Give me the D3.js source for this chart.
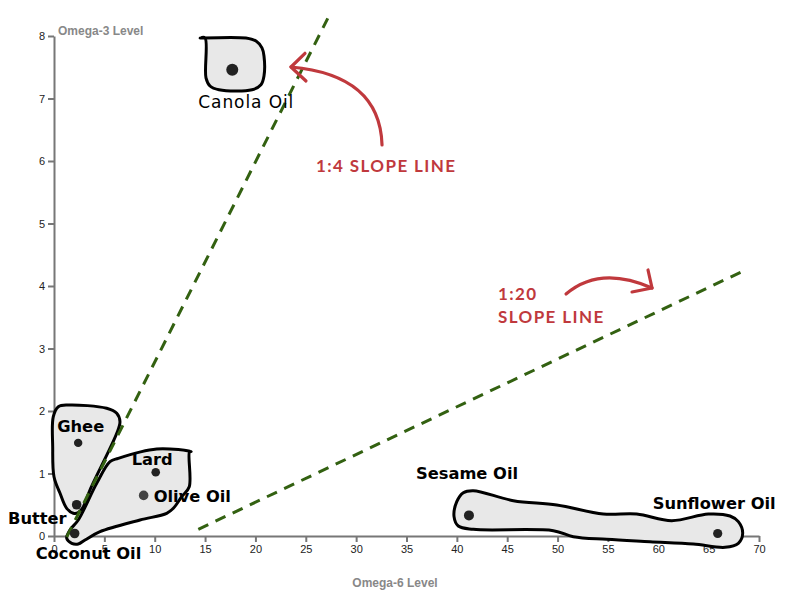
<!DOCTYPE html>
<html>
<head>
<meta charset="utf-8">
<script src="https://cdn.jsdelivr.net/npm/d3@7"></script>
<style>
  html, body { margin: 0; padding: 0; background: #fff; }
  svg { display: block; }
</style>
</head>
<body>
<svg id="chart" width="806" height="609"></svg>
<script>
// ---------- DATA ----------
const oils      = ["Canola Oil", "Ghee", "Butter", "Coconut Oil", "Lard", "Olive Oil", "Sesame Oil", "Sunflower Oil"];
const omega6    = [17.7, 2.4, 2.25, 2.05, 10.1, 8.9, 41.2, 65.9];
const omega3    = [7.46, 1.49, 0.50, 0.04, 1.02, 0.65, 0.33, 0.04];
const dotSize   = [6, 4.2, 4.8, 4.8, 4.3, 4.8, 5, 4.6];

const xTicks = [0, 5, 10, 15, 20, 25, 30, 35, 40, 45, 50, 55, 60, 65, 70];
const yTicks = [0, 1, 2, 3, 4, 5, 6, 7, 8];

// group outlines (omega-6, omega-3)
const hullCanola = [[14.50,7.968],[19.06,7.968],[20.06,7.92],[20.65,7.81],[20.85,7.68],[20.85,7.36],[20.55,7.22],[19.66,7.14],[16.38,7.14],[15.49,7.2],[15.09,7.33],[14.99,7.97]];
const hullGheeButter = [[0.43,2.069],[1.42,2.096],[5.23,2.043],[6.23,1.963],[6.55,1.829],[6.23,1.643],[3.57,0.736],[2.91,0.469],[2.41,0.373],[1.92,0.363],[1.26,0.443],[0.60,0.683],[0.00,0.949],[-0.13,1.429],[-0.07,1.909]];
const hullLardOlive = [[5.56,1.189],[6.38,1.243],[10.20,1.392],[13.62,1.352],[13.45,1.344],[13.43,0.789],[12.68,0.629],[11.85,0.443],[11.19,0.363],[8.54,0.256],[4.57,0.069],[3.08,-0.064],[2.41,-0.128],[1.76,-0.117],[1.26,-0.037],[1.59,0.096],[2.41,0.256],[4.24,0.843]];
const hullSeeds = [[41.63,0.725],[45.61,0.565],[49.92,0.496],[54.54,0.352],[57.86,0.352],[61.33,0.245],[64.97,0.352],[67.12,0.32],[67.95,0.229],[68.38,0.043],[67.95,-0.117],[66.63,-0.181],[63.48,-0.128],[59.18,-0.091],[54.88,-0.053],[51.56,-0.011],[49.58,0.085],[41.63,0.107],[40.14,0.16],[39.72,0.309],[39.99,0.549],[40.64,0.693]];
const hulls = [hullCanola, hullGheeButter, hullLardOlive, hullSeeds];

// reference lines (omega-6, omega-3)
const slope4Line  = [[1.26, -0.016], [27.18, 8.283]];
const slope20Line = [[14.33, 0.107], [68.51, 4.245]];

// annotation arrows (omega-6, omega-3): start, control, tip, wing1, wing2
const arrow4  = [[32.57, 6.256], [32.37, 7.376], [23.53, 7.504], [24.92, 7.723], [25.02, 7.28]];
const arrow20 = [[50.84, 3.872], [54.21, 4.336], [59.38, 3.968], [58.98, 4.256], [57.39, 3.904]];

// ---------- LAYOUT ----------
const W = 806, H = 609;
const m = { left: 54, right: 47, top: 36, bottom: 73 };
const x = d3.scaleLinear().domain([0, 70]).range([m.left, W - m.right]);
const y = d3.scaleLinear().domain([0, 8]).range([H - m.bottom, m.top]);

const svg = d3.select("#chart");

// axes
const xAxis = svg.append("g")
  .attr("transform", `translate(0,${y(0)})`)
  .call(d3.axisBottom(x).tickValues(xTicks).tickSize(6).tickSizeOuter(0));
const yAxis = svg.append("g")
  .attr("transform", `translate(${x(0)},0)`)
  .call(d3.axisLeft(y).tickValues(yTicks).tickSize(6).tickSizeOuter(0));
[xAxis, yAxis].forEach(a => {
  a.selectAll(".domain").attr("stroke", "#777").attr("stroke-width", 2);
  a.selectAll(".tick line").attr("stroke", "#777").attr("stroke-width", 2);
  a.selectAll(".tick text").attr("fill", "#222")
    .style("font-family", "'Liberation Sans', Arial, sans-serif").style("font-size", "11px");
});

// axis titles
svg.append("text").attr("x", x(0) + 4).attr("y", 35)
  .attr("fill", "#888").style("font-family", "'Liberation Sans', Arial, sans-serif")
  .style("font-size", "12px").style("font-weight", "bold").text("Omega-3 Level");
svg.append("text").attr("x", 395).attr("y", 587).attr("text-anchor", "middle")
  .attr("fill", "#888").style("font-family", "'Liberation Sans', Arial, sans-serif")
  .style("font-size", "12px").style("font-weight", "bold").text("Omega-6 Level");

// hulls
const hullLine = d3.line().x(d => x(d[0])).y(d => y(d[1])).curve(d3.curveCatmullRomClosed.alpha(0.5));
svg.append("g").selectAll("path").data(hulls).join("path")
  .attr("d", hullLine)
  .attr("fill", "#e8e8e8").attr("stroke", "#000").attr("stroke-width", 3)
  .attr("stroke-linejoin", "round");

// slope lines
const segLine = d3.line().x(d => x(d[0])).y(d => y(d[1]));
svg.append("g").selectAll("path").data([slope4Line, slope20Line]).join("path")
  .attr("d", segLine)
  .attr("fill", "none").attr("stroke", "#336111").attr("stroke-width", 3)
  .attr("stroke-dasharray", "11,8");

// dots
const pts = oils.map((o, i) => ({ name: o, x: omega6[i], y: omega3[i], r: dotSize[i] }));
svg.append("g").selectAll("circle").data(pts).join("circle")
  .attr("cx", d => x(d.x)).attr("cy", d => y(d.y)).attr("r", d => d.r)
  .attr("fill", d => d.name === "Olive Oil" ? "#444" : "#222");

// labels
const labelStyle = {
  "Canola Oil":    { dx: 14,  dy: 38,  anchor: "middle", weight: "normal" },
  "Ghee":          { dx: -21, dy: -11, anchor: "start",  weight: "bold" },
  "Butter":        { dx: -10, dy: 19,  anchor: "end",    weight: "bold" },
  "Coconut Oil":   { dx: -39, dy: 25,  anchor: "start",  weight: "bold" },
  "Lard":          { dx: -24, dy: -7,  anchor: "start",  weight: "bold" },
  "Olive Oil":     { dx: 10,  dy: 7,   anchor: "start",  weight: "bold" },
  "Sesame Oil":    { dx: -53, dy: -36, anchor: "start",  weight: "bold" },
  "Sunflower Oil": { dx: -65, dy: -25, anchor: "start",  weight: "bold" }
};
svg.append("g").selectAll("text").data(pts).join("text")
  .attr("x", d => x(d.x) + labelStyle[d.name].dx)
  .attr("y", d => y(d.y) + labelStyle[d.name].dy)
  .attr("text-anchor", d => labelStyle[d.name].anchor)
  .style("font-family", "'DejaVu Sans', sans-serif")
  .style("font-size", d => d.name === "Canola Oil" ? "17px" : "16.3px")
  .style("font-weight", d => labelStyle[d.name].weight)
  .style("letter-spacing", d => d.name === "Canola Oil" ? "0.9px" : "0px")
  .attr("fill", "#000")
  .text(d => d.name);

// annotation arrows
const red = "#c0393d";
function drawArrow(a) {
  const p = a.map(d => [x(d[0]), y(d[1])]);
  svg.append("path")
    .attr("d", `M${p[0][0]},${p[0][1]} Q${p[1][0]},${p[1][1]} ${p[2][0]},${p[2][1]}`)
    .attr("fill", "none").attr("stroke", red).attr("stroke-width", 3.2).attr("stroke-linecap", "round");
  svg.append("path")
    .attr("d", `M${p[3][0]},${p[3][1]} L${p[2][0]},${p[2][1]} L${p[4][0]},${p[4][1]}`)
    .attr("fill", "none").attr("stroke", red).attr("stroke-width", 3.2)
    .attr("stroke-linecap", "round").attr("stroke-linejoin", "round");
}
drawArrow(arrow4);
drawArrow(arrow20);

const annFont = "Lato, 'Noto Sans', sans-serif";
function annText(tx, ty, str) {
  svg.append("text").attr("x", tx).attr("y", ty)
    .attr("fill", red).style("font-family", annFont).style("font-size", "17px")
    .style("font-weight", "bold").style("letter-spacing", "1.4px").text(str);
}
annText(316, 172, "1:4 SLOPE LINE");
annText(498, 300, "1:20");
annText(498, 323, "SLOPE LINE");
</script>
</body>
</html>
